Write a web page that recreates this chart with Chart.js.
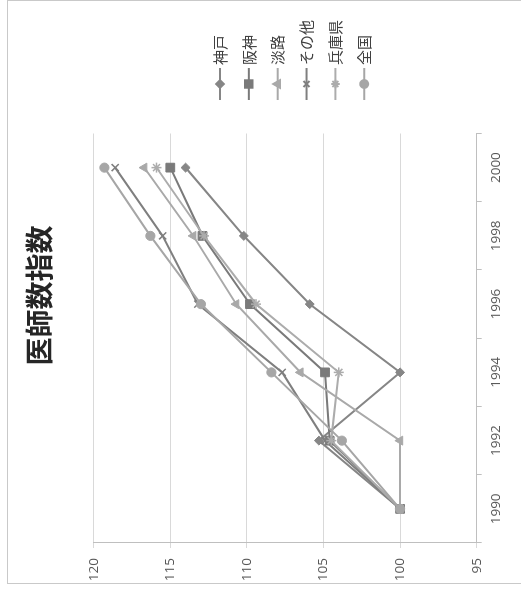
<!DOCTYPE html>
<html>
<head>
<meta charset="utf-8">
<script src="https://cdn.jsdelivr.net/npm/chart.js@4.4.1/dist/chart.umd.min.js"></script>
<style>
  html, body { margin: 0; padding: 0; overflow: hidden; background: #fff; width: 521px; height: 597px; }
  #wrap { position: absolute; left: 0; top: 0; width: 597px; height: 521px; transform-origin: 0 0; transform: translateY(597px) rotate(-90deg); }
  #frame { position: absolute; left: 13px; top: 7px; width: 584px; height: 530px; border: 1px solid #c9c9c9; box-sizing: border-box; }
  #box { position: absolute; left: 13px; top: 7px; width: 583px; height: 508px; }
</style>
</head>
<body>
<div id="wrap">
  <div id="frame"></div>
  <div id="box"><canvas id="grafica"></canvas></div>
</div>
<script>
// datos
const years = ['1990', '1992', '1994', '1996', '1998', '2000'];
const seriesNames = ['神戸', '阪神', '淡路', 'その他', '兵庫県', '全国'];
const kobe = [100, 105.3, 100, 105.9, 110.2, 114.0];
const hanshin = [100, 104.6, 104.9, 109.8, 112.9, 115.0];
const awaji = [100, 100, 106.5, 110.7, 113.5, 116.7];
const other = [100, 104.9, 107.7, 113.2, 115.5, 118.6];
const hyogo = [100, 104.5, 104.0, 109.4, 112.8, 115.9];
const zenkoku = [100, 103.8, 108.4, 113.0, 116.3, 119.3];
const valueMin = 95;
const valueMax = 120;
const valueStep = 5;
const chartTitle = '医師数指数';

const values = [kobe, hanshin, awaji, other, hyogo, zenkoku];
const colores = ['#868686', '#7a7a7a', '#a9a9a9', '#7f7f7f', '#acacac', '#a6a6a6'];
const marcas = ['rectRot', 'rect', 'triangle', 'crossRot', 'star', 'circle'];
const radios = [4.5, 6.2, 5.2, 5, 5, 4.6];

let datasets = [];
for (let i = 0; i < values.length; i++) {
    datasets.push({
        label: seriesNames[i],
        data: values[i],
        borderColor: colores[i],
        backgroundColor: colores[i],
        borderWidth: 2,
        pointStyle: marcas[i],
        pointRadius: radios[i],
        pointHoverRadius: radios[i],
        pointBackgroundColor: colores[i],
        pointBorderColor: colores[i],
        pointBorderWidth: (marcas[i] == 'crossRot' || marcas[i] == 'star') ? 1.5 : 1,
        tension: 0,
        clip: false,
        order: -i // las series posteriores encima
    });
}

// titulo y leyenda dibujados a mano
const extras = {
    id: 'extras',
    afterDraw(chart) {
        const ctx = chart.ctx;
        ctx.save();
        ctx.fillStyle = '#262626';
        ctx.font = 'bold 28px "Noto Sans CJK JP"';
        ctx.textAlign = 'center';
        ctx.textBaseline = 'middle';
        ctx.fillText(chartTitle, 288.5, 32);

        ctx.font = '15px "Noto Sans CJK JP"';
        ctx.textAlign = 'left';
        for (let i = 0; i < seriesNames.length; i++) {
            const y = 213 + i * 28.85;
            ctx.strokeStyle = colores[i];
            ctx.lineWidth = 2;
            ctx.beginPath();
            ctx.moveTo(484, y);
            ctx.lineTo(516, y);
            ctx.stroke();
            ctx.fillStyle = colores[i];
            Chart.helpers.drawPoint(ctx, {
                pointStyle: marcas[i],
                radius: radios[i] * 0.85,
                rotation: 0,
                borderWidth: (marcas[i] == 'crossRot' || marcas[i] == 'star') ? 1.5 : 1
            }, 500, y);
            ctx.fillStyle = '#404040';
            ctx.fillText(seriesNames[i], 519, y);
        }
        ctx.restore();
    }
};

new Chart(document.getElementById('grafica'), {
    type: 'line',
    data: { labels: years, datasets: datasets },
    options: {
        responsive: true,
        maintainAspectRatio: false,
        animation: false,
        events: [],
        layout: { padding: { top: 86.7, right: 132.5, left: 0, bottom: 0 } },
        plugins: {
            legend: { display: false },
            title: { display: false },
            tooltip: { enabled: false }
        },
        scales: {
            x: {
                type: 'category',
                offset: true,
                afterFit: s => { s.height = 38.3; },
                border: { display: true, color: '#bfbfbf', width: 1 },
                grid: { offset: true, drawOnChartArea: false, drawTicks: true, tickLength: 5, color: '#bfbfbf' },
                ticks: { color: '#595959', font: { family: 'Open Sans', size: 13.5 }, padding: 6, maxRotation: 0, autoSkip: false }
            },
            y: {
                min: valueMin,
                max: valueMax,
                afterFit: s => { s.width = 41; },
                border: { display: true, color: '#bfbfbf', width: 1 },
                grid: { color: '#d9d9d9', tickLength: 5, drawTicks: true },
                ticks: { stepSize: valueStep, color: '#595959', font: { family: 'Open Sans', size: 13.5 }, padding: 10 }
            }
        }
    },
    plugins: [extras]
});
</script>
</body>
</html>
